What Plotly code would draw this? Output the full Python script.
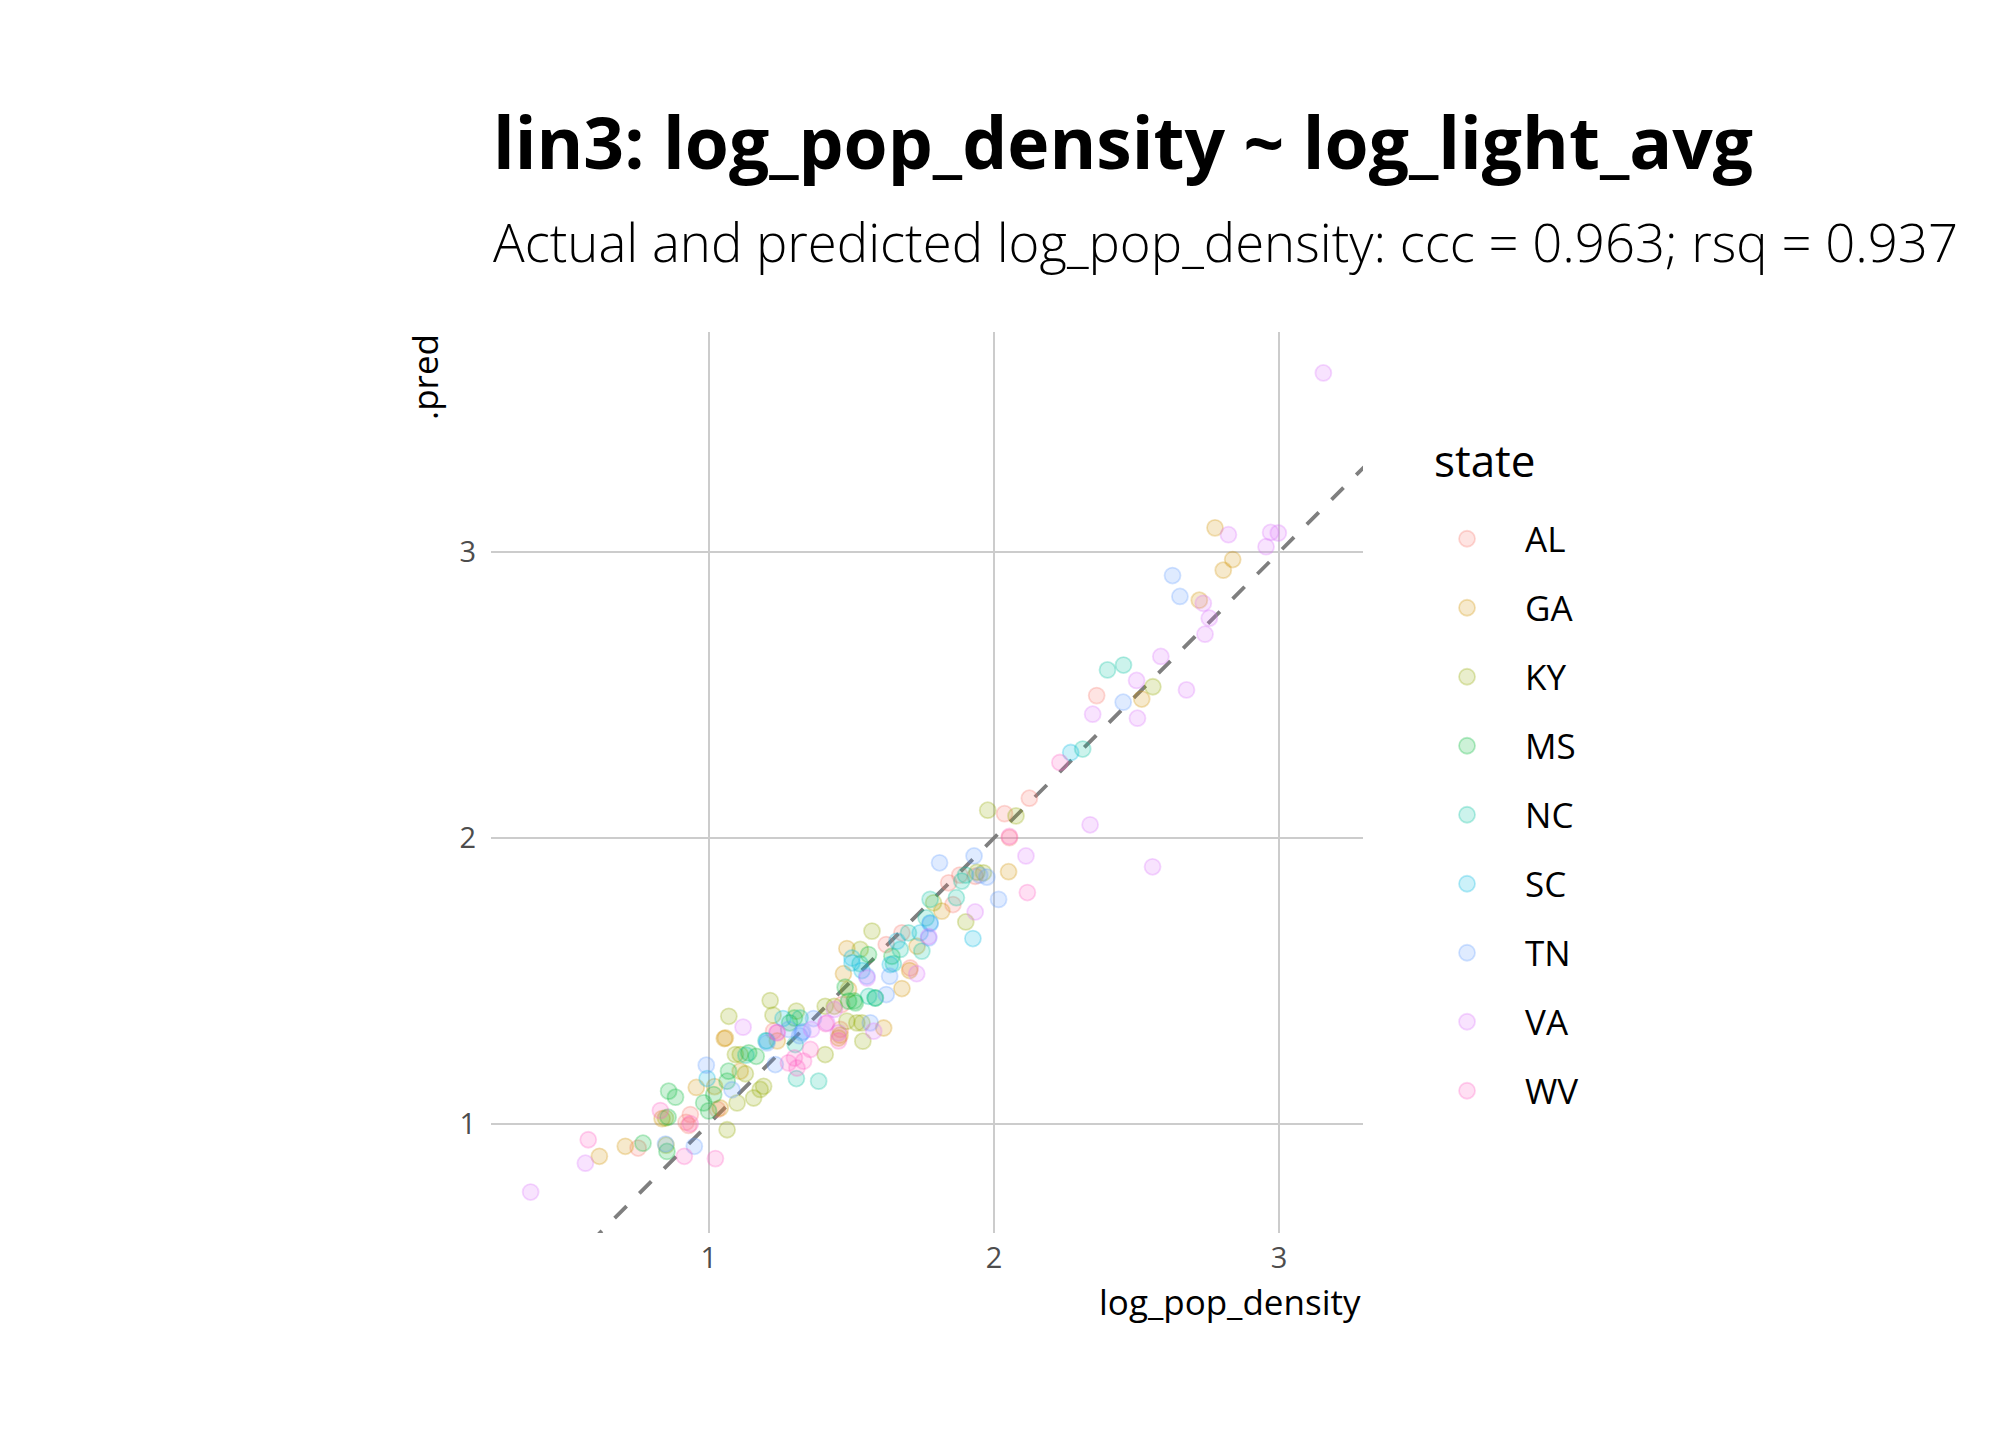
import plotly.graph_objects as go

# ---------------- data (log_pop_density = actual, .pred = predicted) ----------------
states = ["AL", "GA", "KY", "MS", "NC", "SC", "TN", "VA", "WV"]
colors = ["#F8766D", "#D39200", "#93AA00", "#00BA38", "#00C19F",
          "#00B9E3", "#619CFF", "#DB72FB", "#FF61C3"]

al_actual = [0.752, 0.935, 0.929, 0.920, 1.030, 1.227, 1.461, 1.466, 1.622, 1.677,
             1.706, 1.841, 1.856, 1.934, 1.880, 2.037, 2.124, 2.054, 2.360]
al_pred = [0.915, 1.032, 0.994, 1.005, 1.050, 1.324, 1.330, 1.417, 1.627, 1.668,
           1.545, 1.843, 1.767, 1.866, 1.870, 2.085, 2.139, 2.001, 2.498]

ga_actual = [0.616, 0.707, 0.836, 0.956, 1.040, 1.054, 1.058, 1.110, 1.020, 1.240,
             1.455, 1.460, 1.472, 1.484, 1.613, 1.677, 1.704, 1.730, 1.817, 2.051,
             2.518, 2.720, 2.775, 2.837, 2.804, 1.490]
ga_pred = [0.886, 0.921, 1.018, 1.127, 1.055, 1.298, 1.300, 1.184, 1.130, 1.290,
           1.300, 1.310, 1.525, 1.613, 1.335, 1.473, 1.536, 1.621, 1.744, 1.882,
           2.486, 2.832, 3.085, 2.974, 2.937, 1.470]

ky_actual = [0.850, 0.848, 1.064, 1.070, 1.099, 1.093, 1.110, 1.128, 1.157, 1.192,
             1.180, 1.215, 1.225, 1.307, 1.408, 1.440, 1.408, 1.484, 1.519, 1.537,
             1.540, 1.531, 1.572, 1.788, 1.901, 1.963, 1.978, 2.077, 2.557, 1.940]
ky_pred = [0.925, 1.020, 0.979, 1.376, 1.073, 1.242, 1.242, 1.175, 1.090, 1.131,
           1.120, 1.431, 1.380, 1.394, 1.411, 1.411, 1.242, 1.359, 1.353, 1.353,
           1.289, 1.610, 1.674, 1.773, 1.706, 1.878, 2.097, 2.077, 2.529, 1.880]

ms_actual = [0.769, 0.853, 0.859, 0.883, 0.857, 0.982, 0.999, 1.017, 1.064, 1.069,
             1.140, 1.166, 1.283, 1.300, 1.478, 1.514, 1.490, 1.584, 1.560, 1.642,
             1.510]
ms_pred = [0.932, 0.903, 1.114, 1.093, 1.023, 1.073, 1.045, 1.102, 1.149, 1.184,
           1.248, 1.236, 1.353, 1.370, 1.478, 1.423, 1.429, 1.440, 1.592, 1.586,
           1.430]

nc_actual = [1.130, 1.303, 1.307, 1.385, 1.320, 1.200, 1.560, 1.583, 1.530, 1.647,
             1.671, 1.700, 1.747, 1.762, 1.776, 1.868, 1.887, 1.900, 2.311, 2.398,
             2.454]
nc_pred = [1.240, 1.277, 1.158, 1.149, 1.370, 1.290, 1.446, 1.440, 1.560, 1.560,
           1.610, 1.668, 1.604, 1.720, 1.785, 1.791, 1.849, 1.870, 2.311, 2.588,
           2.605]

sc_actual = [0.994, 1.204, 1.260, 1.502, 1.502, 1.537, 1.636, 1.660, 1.741, 1.776,
             1.926, 2.269]
sc_pred = [1.158, 1.290, 1.368, 1.580, 1.563, 1.536, 1.557, 1.639, 1.668, 1.703,
           1.648, 2.299]

tn_actual = [0.848, 0.949, 0.991, 1.081, 1.204, 1.233, 1.326, 1.330, 1.318, 1.367,
             1.566, 1.554, 1.634, 1.622, 1.771, 1.776, 1.809, 1.930, 1.975, 2.016,
             1.950, 2.453, 2.626, 2.652, 1.280]
tn_pred = [0.929, 0.921, 1.205, 1.119, 1.283, 1.207, 1.318, 1.322, 1.308, 1.368,
           1.353, 1.516, 1.516, 1.452, 1.650, 1.700, 1.913, 1.937, 1.863, 1.785,
           1.870, 2.475, 2.918, 2.845, 1.330]

va_actual = [0.375, 0.567, 1.120, 1.240, 1.360, 1.414, 1.454, 1.578, 1.555, 1.729,
             1.771, 1.934, 2.112, 2.337, 2.556, 2.346, 2.503, 2.500, 2.585, 2.675,
             2.734, 2.755, 2.740, 2.822, 2.970, 2.997, 2.954, 3.155, 1.440]
va_pred = [0.761, 0.862, 1.338, 1.320, 1.330, 1.353, 1.318, 1.324, 1.510, 1.525,
           1.655, 1.741, 1.937, 2.046, 1.899, 2.433, 2.419, 2.551, 2.635, 2.518,
           2.821, 2.769, 2.713, 3.061, 3.069, 3.067, 3.019, 3.627, 1.400]

wv_actual = [0.577, 0.830, 0.914, 1.023, 0.935, 1.239, 1.279, 1.300, 1.309, 1.332,
             1.356, 1.410, 1.455, 2.054, 2.117, 2.231]
wv_pred = [0.944, 1.046, 0.886, 0.878, 1.000, 1.318, 1.213, 1.230, 1.195, 1.219,
           1.260, 1.350, 1.290, 2.005, 1.809, 2.264]

actual = [al_actual, ga_actual, ky_actual, ms_actual, nc_actual,
          sc_actual, tn_actual, va_actual, wv_actual]
pred = [al_pred, ga_pred, ky_pred, ms_pred, nc_pred,
        sc_pred, tn_pred, va_pred, wv_pred]

title_text = "lin3: log_pop_density ~ log_light_avg"
subtitle_text = "Actual and predicted log_pop_density: ccc = 0.963; rsq = 0.937"
x_title = "log_pop_density"
y_title = ".pred"
legend_title = "state"
tick_vals = [1, 2, 3]

# ---------------- helpers ----------------
def rgba(hex_color, a):
    h = hex_color.lstrip("#")
    r, g, b = int(h[0:2], 16), int(h[2:4], 16), int(h[4:6], 16)
    return f"rgba({r},{g},{b},{a})"


def expanded(values, mult=0.05):
    lo, hi = min(values), max(values)
    pad = (hi - lo) * mult
    return [lo - pad, hi + pad]


all_x = [v for s in actual for v in s]
all_y = [v for s in pred for v in s]
x_range = expanded(all_x)
y_range = expanded(all_y)

FONT = "Open Sans"

fig = go.Figure()

# reference line y = x across the panel (slope 1, intercept 0)
line_lo = min(x_range[0], y_range[0])
line_hi = max(x_range[1], y_range[1])
fig.add_trace(go.Scatter(
    x=[line_lo, line_hi], y=[line_lo, line_hi], mode="lines",
    line=dict(color="#7F7F7F", width=3.8, dash="17px,18px"),
    showlegend=False, hoverinfo="skip"))

for i, st in enumerate(states):
    fig.add_trace(go.Scatter(
        x=actual[i], y=pred[i], mode="markers", name=st,
        legendgroup=st,
        marker=dict(size=16, color=rgba(colors[i], 0.2),
                    line=dict(color=rgba(colors[i], 0.27), width=1.8)),
    ))

fig.update_layout(
    width=2000, height=1424,
    margin=dict(l=483, r=645, t=324, b=199),
    plot_bgcolor="white", paper_bgcolor="white",
    font=dict(family=FONT, color="#000000"),
    showlegend=True,
    legend=dict(
        font=dict(size=35, family=FONT, color="#000000"),
        x=1.0528, xanchor="left", y=0.803, yanchor="top",
        tracegroupgap=20.5, itemwidth=106,
        bgcolor="rgba(0,0,0,0)",
    ),
    xaxis=dict(range=x_range, tickvals=tick_vals, showgrid=True,
               gridcolor="#CCCCCC", gridwidth=1.8, zeroline=False,
               showline=False, ticks="", ticklabelstandoff=5,
               tickfont=dict(size=29, color="#4D4D4D", family=FONT)),
    yaxis=dict(range=y_range, tickvals=tick_vals, showgrid=True,
               gridcolor="#CCCCCC", gridwidth=1.8, zeroline=False,
               showline=False, ticks="", ticklabelstandoff=14,
               tickfont=dict(size=29, color="#4D4D4D", family=FONT)),
)

fig.add_annotation(text=f"<b>{title_text}</b>", xref="paper", yref="paper",
                   x=0, y=1, xanchor="left", yanchor="bottom", yshift=140,
                   showarrow=False, font=dict(size=71.3, family=FONT, color="#000000"))
fig.add_annotation(text=subtitle_text, xref="paper", yref="paper",
                   x=0, y=1, xanchor="left", yanchor="bottom", yshift=53,
                   showarrow=False,
                   font=dict(size=52.7, family=FONT, color="#000000", weight=300))
fig.add_annotation(text=y_title, xref="paper", yref="paper",
                   x=0, y=1, xanchor="center", yanchor="top", xshift=-67,
                   textangle=-90, showarrow=False,
                   font=dict(size=35, family=FONT, color="#000000"))
fig.add_annotation(text=x_title, xref="paper", yref="paper",
                   x=1, y=0, xanchor="right", yanchor="middle", yshift=-68,
                   showarrow=False, font=dict(size=35, family=FONT, color="#000000"))
fig.add_annotation(text=legend_title, xref="paper", yref="paper",
                   x=1.0791, y=0.8578, xanchor="left", yanchor="middle",
                   showarrow=False, font=dict(size=44, family=FONT, color="#000000"))

fig.write_html("out.html")
